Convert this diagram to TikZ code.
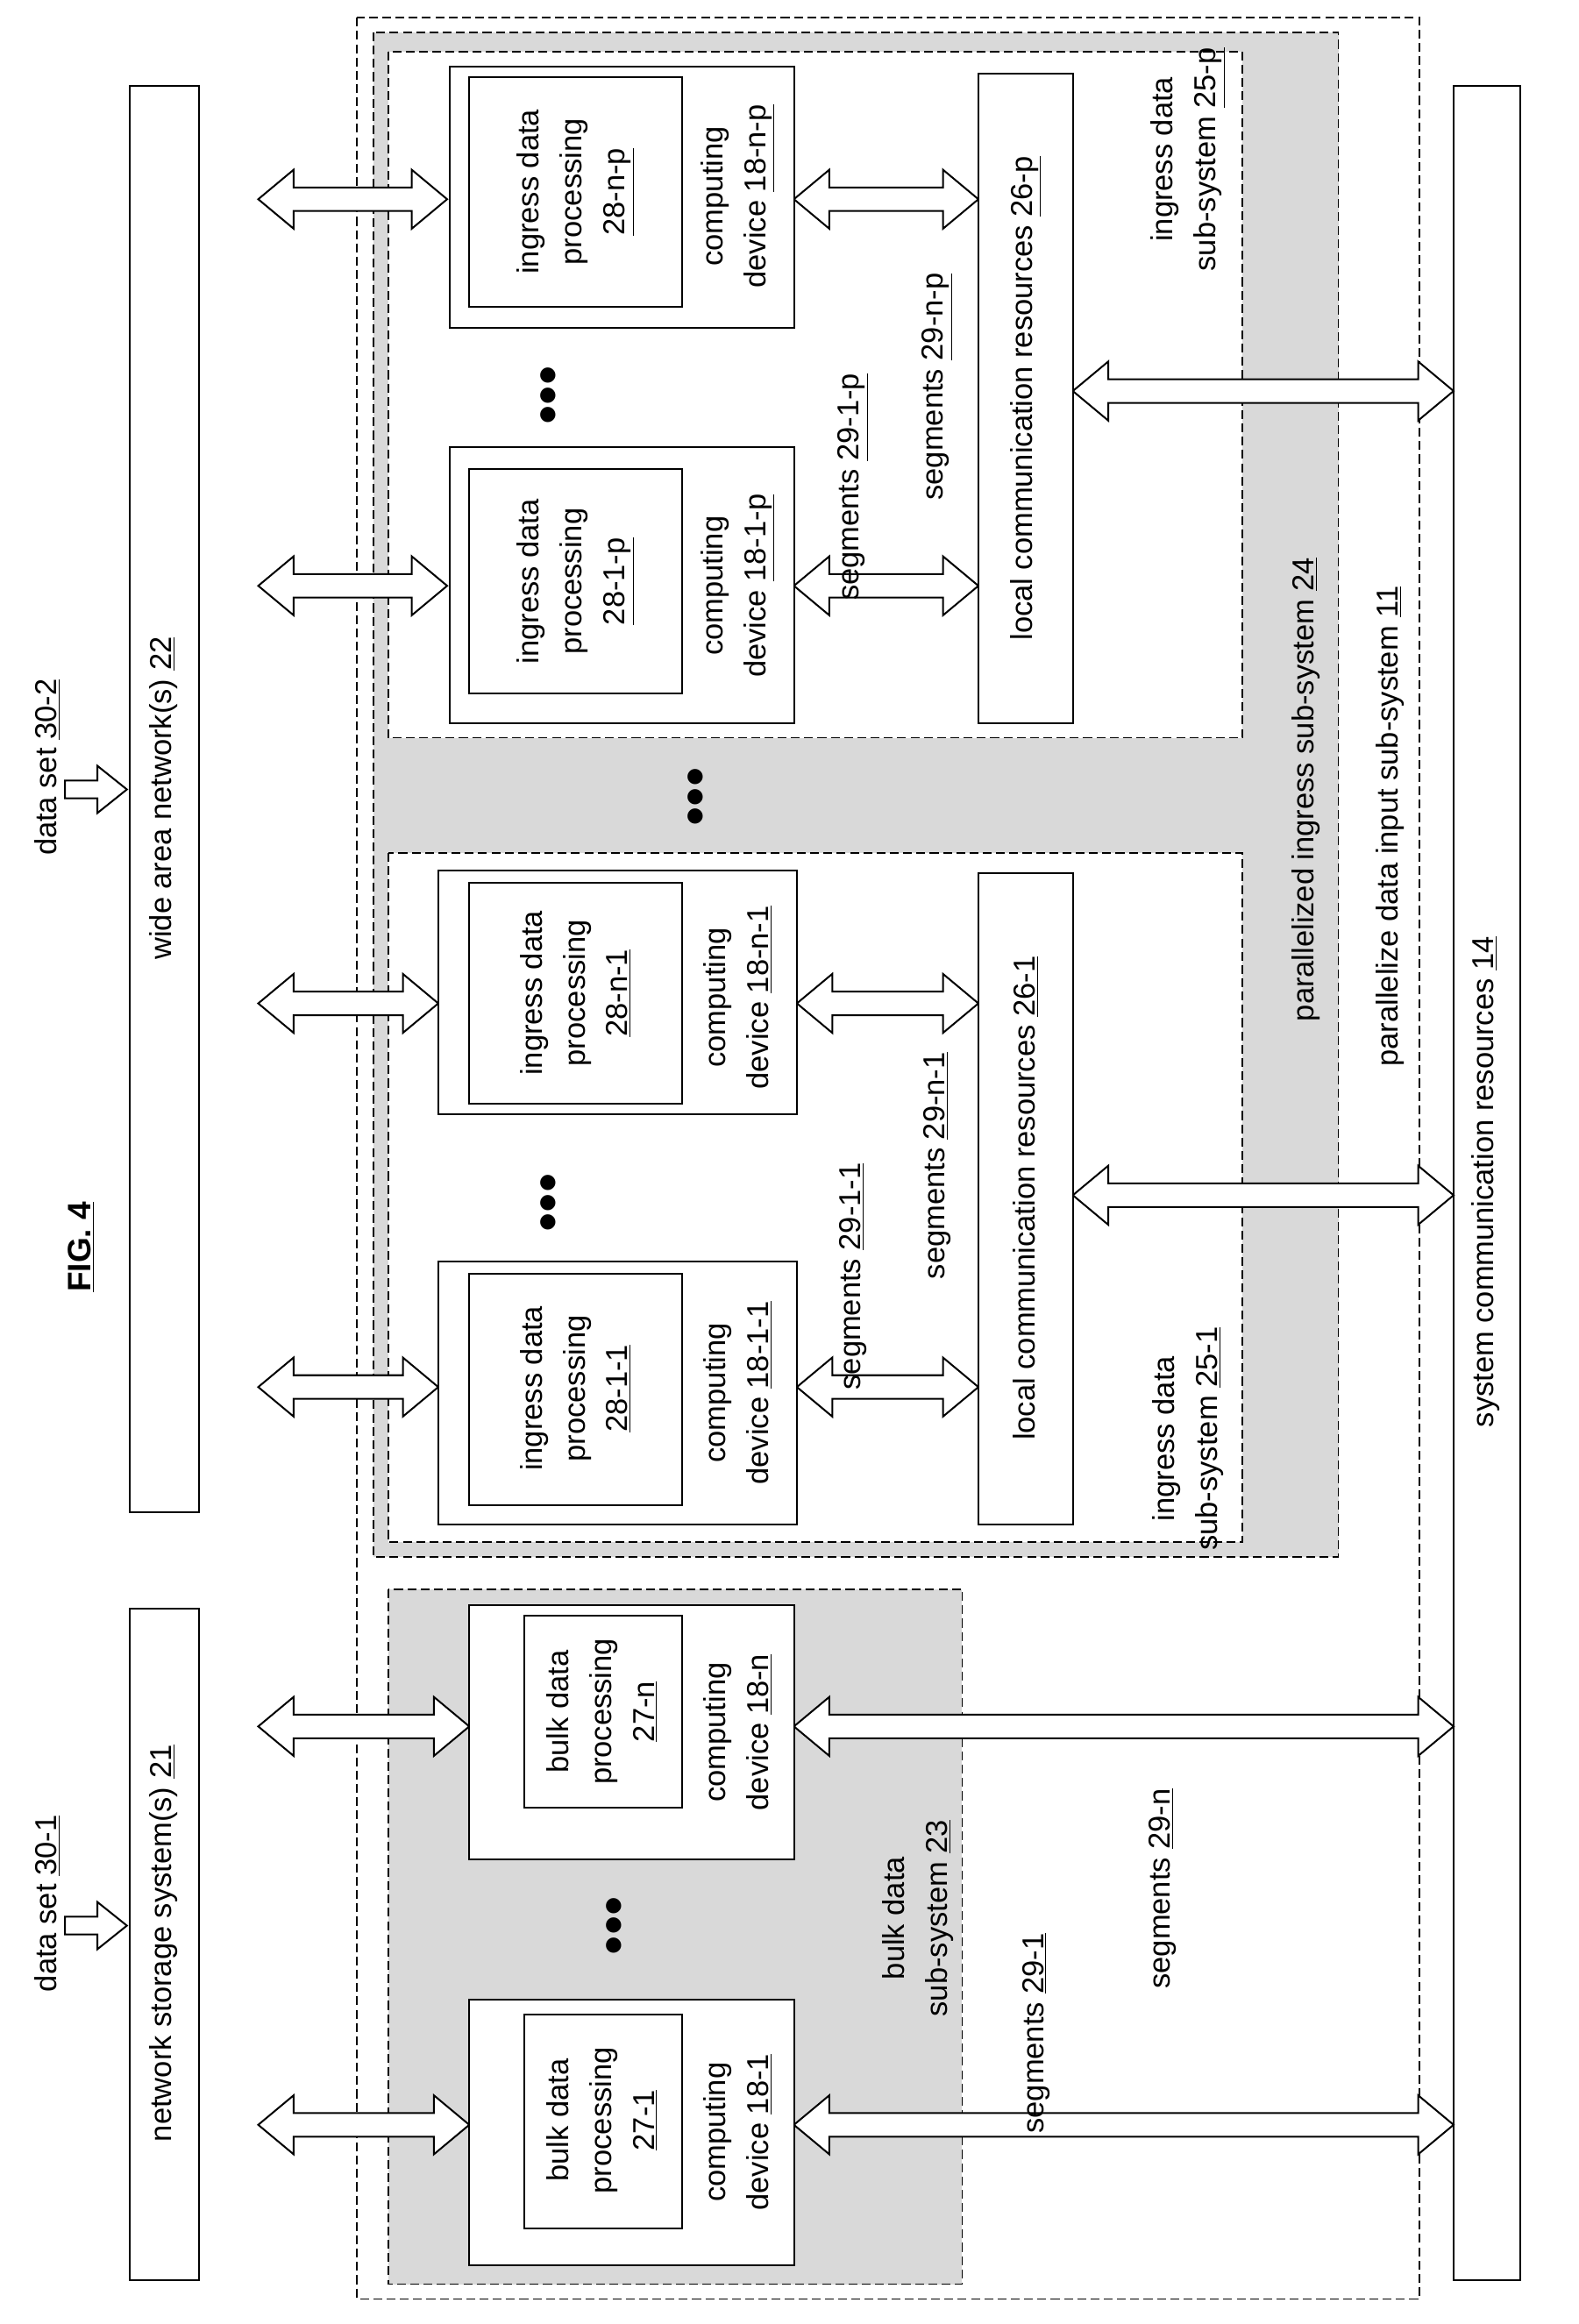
\documentclass[tikz,border=0pt]{standalone}
\usepackage{fontspec}
\setmainfont{Liberation Sans}
\begin{document}
\newcommand\harr[3]{\draw[line width=1.2pt,fill=white] (#1,#3) -- ({#1+24},{#3-20}) -- ({#1+24},{#3-8}) -- ({#2-24},{#3-8}) -- ({#2-24},{#3-20}) -- (#2,#3) -- ({#2-24},{#3+20}) -- ({#2-24},{#3+8}) -- ({#1+24},{#3+8}) -- ({#1+24},{#3+20}) -- cycle;}
\newcommand\rarr[2]{\draw[line width=1.2pt,fill=white] ({#1-22},{#2-6}) -- ({#1},{#2-6}) -- ({#1},{#2-16}) -- ({#1+20},{#2}) -- ({#1},{#2+16}) -- ({#1},{#2+6}) -- ({#1-22},{#2+6}) -- cycle;}
\begin{tikzpicture}[x=1pt,y=-1pt,
  box/.style={draw,line width=1.2pt,fill=white},
  dsh/.style={draw,dash pattern=on 6pt off 3pt,line width=1pt},
  txt/.style={rotate=90,align=center,font=\fontsize{20.5}{29}\selectfont},
  dots/.style={rotate=90,font=\fontsize{38}{38}\selectfont}]
\useasboundingbox (0,0) rectangle (1070,1575);
\fill[white] (0,0) rectangle (1070,1575);
% containers
\draw[dsh] (242,12) rectangle (962,1558);
\draw[dsh,fill=gray!30] (253,22) rectangle (907,1055);
\draw[dsh,fill=white] (263,35) rectangle (842,500);
\draw[dsh,fill=white] (263,578) rectangle (842,1045);
\draw[dsh,fill=gray!30] (263,1077) rectangle (652,1548);
% big boxes
\draw[box] (88,58) rectangle (135,1025); \node[txt] (wan) at (111,541) {wide area network(s) \underline{22}};
\draw[box] (88,1090) rectangle (135,1545); \node[txt] (nss) at (111,1317) {network storage system(s) \underline{21}};
\draw[box] (985,58) rectangle (1030,1545); \node[txt] (scr) at (1007,801) {system communication resources \underline{14}};
% arrows
\harr{175}{303}{135}\harr{175}{303}{397}\harr{175}{297}{680}\harr{175}{297}{940}
\harr{175}{318}{1170}\harr{175}{318}{1440}
\harr{538}{663}{135}\harr{538}{663}{397}\harr{540}{663}{680}\harr{540}{663}{940}
\harr{727}{985}{265}\harr{727}{985}{810}
\harr{538}{985}{1170}\harr{538}{985}{1440}
% computing devices
\draw[box] (305,45) rectangle (538,222); \draw[box] (318,52) rectangle (462,208);
\node[txt] at (390,130) {ingress data\\processing\\\underline{28-n-p}}; \node[txt] at (500,133) {computing\\device \underline{18-n-p}};
\draw[box] (305,303) rectangle (538,490); \draw[box] (318,318) rectangle (462,470);
\node[txt] at (390,394) {ingress data\\processing\\\underline{28-1-p}}; \node[txt] at (500,397) {computing\\device \underline{18-1-p}};
\draw[box] (297,590) rectangle (540,755); \draw[box] (318,598) rectangle (462,748);
\node[txt] at (390,673) {ingress data\\processing\\\underline{28-n-1}}; \node[txt] at (500,676) {computing\\device \underline{18-n-1}};
\draw[box] (297,855) rectangle (540,1033); \draw[box] (318,863) rectangle (462,1020);
\node[txt] at (390,941) {ingress data\\processing\\\underline{28-1-1}}; \node[txt] at (500,944) {computing\\device \underline{18-1-1}};
\draw[box] (318,1088) rectangle (538,1260); \draw[box] (355,1095) rectangle (462,1225);
\node[txt] at (408,1160) {bulk data\\processing\\\underline{27-n}}; \node[txt] at (500,1174) {computing\\device \underline{18-n}};
\draw[box] (318,1355) rectangle (538,1535); \draw[box] (355,1365) rectangle (462,1510);
\node[txt] at (408,1437) {bulk data\\processing\\\underline{27-1}}; \node[txt] at (500,1445) {computing\\device \underline{18-1}};
% local comm
\draw[box] (663,50) rectangle (727,490); \node[txt] at (695,270) {local communication resources \underline{26-p}};
\draw[box] (663,592) rectangle (727,1033); \node[txt] at (695,812) {local communication resources \underline{26-1}};
% dots
\node[dots] at (375,268) {•••}; \node[dots] at (375,815) {•••}; \node[dots] at (475,540) {•••}; \node[dots] at (420,1305) {•••};
% labels
\node[txt] at (578,330) {segments \underline{29-1-p}};
\node[txt] at (635,262) {segments \underline{29-n-p}};
\node[txt] at (578,865) {segments \underline{29-1-1}};
\node[txt] at (635,790) {segments \underline{29-n-1}};
\node[txt] at (805,108) {ingress data\\sub-system \underline{25-p}};
\node[txt] at (805,975) {ingress data\\sub-system \underline{25-1}};
\node[txt] at (885,535) {parallelized ingress sub-system \underline{24}};
\node[txt] at (942,560) {parallelize data input sub-system \underline{11}};
\node[txt] at (622,1300) {bulk data\\sub-system \underline{23}};
\node[txt] at (702,1378) {segments \underline{29-1}};
\node[txt] at (788,1280) {segments \underline{29-n}};
% data sets
\node[txt] at (32,520) {data set \underline{30-2}}; \rarr{66}{535}
\node[txt] at (32,1290) {data set \underline{30-1}}; \rarr{66}{1305}
\node[txt,font=\bfseries\fontsize{22}{27}\selectfont] at (55,845) {\underline{FIG. 4}};
\end{tikzpicture}
\end{document}
